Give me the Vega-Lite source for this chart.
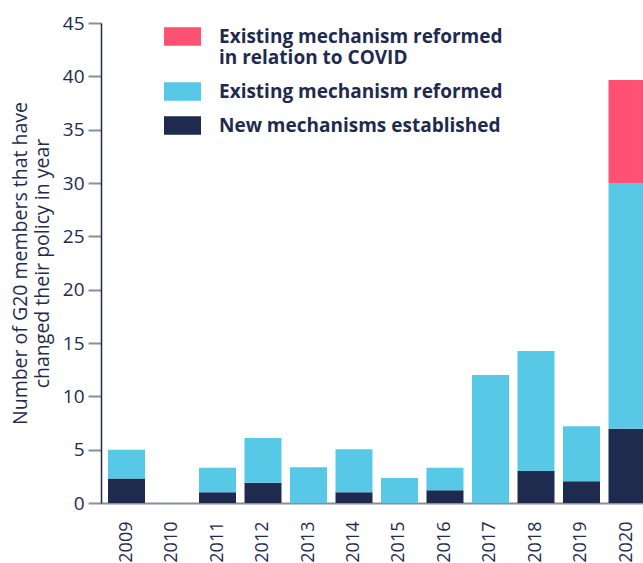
{
  "$schema": "https://vega.github.io/schema/vega-lite/v6.json",
  "autosize": {"type": "none"},
  "padding": {"left": 101, "top": 23, "right": 0, "bottom": 60},
  "width": 542,
  "height": 480,
  "background": "white",
  "config": {
    "view": {"stroke": null},
    "font": "Open Sans"
  },
  "data": {
    "values": [
      {"year": "2009", "series": "New mechanisms established", "value": 2.3},
      {"year": "2009", "series": "Existing mechanism reformed", "value": 2.7},
      {"year": "2010", "series": "New mechanisms established", "value": 0},
      {"year": "2010", "series": "Existing mechanism reformed", "value": 0},
      {"year": "2011", "series": "New mechanisms established", "value": 1.0},
      {"year": "2011", "series": "Existing mechanism reformed", "value": 2.3},
      {"year": "2012", "series": "New mechanisms established", "value": 1.9},
      {"year": "2012", "series": "Existing mechanism reformed", "value": 4.2},
      {"year": "2013", "series": "Existing mechanism reformed", "value": 3.35},
      {"year": "2014", "series": "New mechanisms established", "value": 1.0},
      {"year": "2014", "series": "Existing mechanism reformed", "value": 4.05},
      {"year": "2015", "series": "Existing mechanism reformed", "value": 2.35},
      {"year": "2016", "series": "New mechanisms established", "value": 1.2},
      {"year": "2016", "series": "Existing mechanism reformed", "value": 2.1},
      {"year": "2017", "series": "Existing mechanism reformed", "value": 12.0},
      {"year": "2018", "series": "New mechanisms established", "value": 3.0},
      {"year": "2018", "series": "Existing mechanism reformed", "value": 11.25},
      {"year": "2019", "series": "New mechanisms established", "value": 2.05},
      {"year": "2019", "series": "Existing mechanism reformed", "value": 5.15},
      {"year": "2020", "series": "New mechanisms established", "value": 6.95},
      {"year": "2020", "series": "Existing mechanism reformed", "value": 23.05},
      {"year": "2020", "series": "Existing mechanism reformed in relation to COVID", "value": 9.65}
    ]
  },
  "transform": [
    {"calculate": "indexof(['New mechanisms established', 'Existing mechanism reformed', 'Existing mechanism reformed in relation to COVID'], datum.series)", "as": "stackRank"}
  ],
  "mark": {"type": "bar", "clip": true},
  "encoding": {
    "x": {
      "field": "year",
      "type": "nominal",
      "scale": {"range": [0, 551.5], "paddingInner": 0.187, "paddingOuter": 0.154},
      "axis": {
        "title": null,
        "labelAngle": -90,
        "labelAlign": "right",
        "labelBaseline": "middle",
        "labelPadding": 18,
        "labelFontSize": 18,
        "labelColor": "#1f2b4e",
        "ticks": false,
        "domainColor": "#8a8e9a",
        "domainWidth": 2
      }
    },
    "y": {
      "field": "value",
      "type": "quantitative",
      "stack": "zero",
      "scale": {"domain": [0, 45], "nice": false},
      "axis": {
        "values": [0, 5, 10, 15, 20, 25, 30, 35, 40, 45],
        "grid": false,
        "title": ["Number of G20 members that have", "changed their policy in year"],
        "titleFontSize": 19.5,
        "titleFontWeight": "normal",
        "titleColor": "#1f2b4e",
        "titlePadding": 10,
        "titleLineHeight": 22,
        "labelFontSize": 19,
        "labelColor": "#1f2b4e",
        "labelPadding": 4,
        "tickSize": 13,
        "tickColor": "#8a8e9a",
        "tickWidth": 2,
        "domainColor": "#1f2b4e",
        "domainWidth": 1.5
      }
    },
    "color": {
      "field": "series",
      "type": "nominal",
      "sort": ["Existing mechanism reformed in relation to COVID", "Existing mechanism reformed", "New mechanisms established"],
      "scale": {
        "domain": ["Existing mechanism reformed in relation to COVID", "Existing mechanism reformed", "New mechanisms established"],
        "range": ["#ff5272", "#57c9e6", "#1f2b4e"]
      },
      "legend": {
        "title": null,
        "orient": "none",
        "legendX": 72,
        "legendY": 4,
        "symbolType": "M-2,-1H2V1H-2Z",
        "symbolSize": 342,
        "symbolStrokeWidth": 0,
        "symbolOpacity": 1,
        "labelFontSize": 19,
        "labelFontWeight": "bold",
        "labelColor": "#1f2b4e",
        "labelOffset": 27,
        "labelLimit": 400,
        "labelLineHeight": 19.5,
        "rowPadding": 14,
        "labelExpr": "datum.label == 'Existing mechanism reformed in relation to COVID' ? ['Existing mechanism reformed', 'in relation to COVID'] : datum.label"
      }
    },
    "order": {"field": "stackRank", "type": "quantitative", "sort": "ascending"}
  }
}
